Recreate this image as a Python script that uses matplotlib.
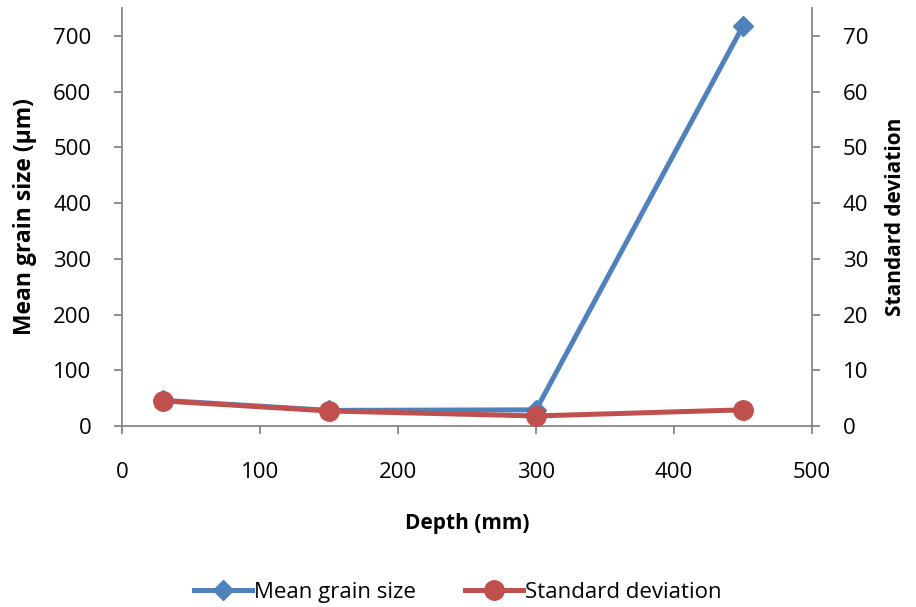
import matplotlib
matplotlib.use("Agg")
import matplotlib.pyplot as plt
from matplotlib.lines import Line2D

plt.rcParams['font.family'] = ['Open Sans', 'DejaVu Sans']

depth = [30, 150, 300, 450]
mean_grain = [46, 28, 29, 718]
std_dev = [4.5, 2.7, 1.8, 2.9]

blue = '#4F81BD'
red = '#C0504D'
gray = '#868686'

fig = plt.figure(figsize=(9.16, 6.07), dpi=100)
ax = fig.add_axes([0.1332, 0.2982, 0.7533, 0.6886])
ax2 = ax.twinx()

ax.plot(depth, mean_grain, color=blue, lw=3.6, marker='D', ms=10,
        markeredgecolor=blue, markerfacecolor=blue, zorder=3)
ax2.plot(depth, std_dev, color=red, lw=3.6, marker='o', ms=14,
         markeredgecolor=red, markerfacecolor=red, zorder=3)

ax.set_xlim(0, 500)
ax.set_ylim(0, 750)
ax2.set_ylim(0, 75)
ax.set_xticks(range(0, 501, 100))
ax.set_yticks(range(0, 701, 100))
ax2.set_yticks(range(0, 71, 10))

for a in (ax, ax2):
    for s in a.spines.values():
        s.set_color(gray)
        s.set_linewidth(1.3)
    a.spines['top'].set_visible(False)
    a.tick_params(colors=gray, labelcolor='black', labelsize=16,
                  length=6, width=1.3, direction='out')
ax.spines['right'].set_visible(False)
ax2.spines['left'].set_visible(False)
ax2.spines['bottom'].set_visible(False)
ax.tick_params(axis='x', pad=20)
ax.tick_params(axis='y', pad=16)
ax2.tick_params(axis='y', pad=16)

ax.set_xlabel('Depth (mm)', fontsize=15, fontweight='bold')
ax.set_ylabel('Mean grain size (µm)', fontsize=16.5, fontweight='bold')
ax2.set_ylabel('Standard deviation', fontsize=15, fontweight='bold')
ax.xaxis.set_label_coords(0.5, -0.208)
ax.yaxis.set_label_coords(-0.123, 0.5)
ax2.yaxis.set_label_coords(1.1058, 0.5)

handles = [
    Line2D([], [], color=blue, lw=3.6, marker='D', ms=10),
    Line2D([], [], color=red, lw=3.6, marker='o', ms=14),
]
fig.legend(handles, ['Mean grain size', 'Standard deviation'], loc='center',
           bbox_to_anchor=(0.5, 0.024), ncol=2, frameon=False, fontsize=16,
           handlelength=2.6, handletextpad=0.1, columnspacing=2.2)

fig.savefig('out.png', dpi=100)
